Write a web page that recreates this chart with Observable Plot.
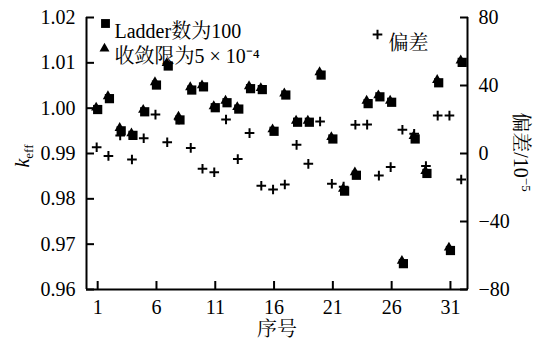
<!DOCTYPE html>
<html><head><meta charset="utf-8">
<script src="https://cdn.jsdelivr.net/npm/d3@7"></script>
<script src="https://cdn.jsdelivr.net/npm/@observablehq/plot@0.6"></script>
<style>body{margin:0;background:#fff} svg{display:block}</style>
</head><body><div id="chart"></div>
<script>
// ---- data ----
const index = [1,2,3,4,5,6,7,8,9,10,11,12,13,14,15,16,17,18,19,20,21,22,23,24,25,26,27,28,29,30,31,32];
const ladder = [0.9997,1.0021,0.9950,0.9940,0.9992,1.0051,1.0093,0.9974,1.0040,1.0047,1.0001,1.0012,0.9998,1.0043,1.0041,0.9949,1.0029,0.9969,0.9969,1.0073,0.9932,0.9817,0.9852,1.0010,1.0025,1.0013,0.9657,0.9932,0.9856,1.0056,0.9686,1.0101];
const conv = [0.9998,1.0023,0.9953,0.9941,0.9993,1.0054,1.0096,0.9978,1.0043,1.0047,1.0001,1.0013,0.9999,1.0045,1.0041,0.9950,1.0029,0.9969,0.9969,1.0076,0.9933,0.9819,0.9855,1.0013,1.0025,1.0013,0.9660,0.9935,0.9858,1.0059,0.9689,1.0102];
const deviation = [3.7,-1.4,10.6,-3.5,9.0,22.9,6.6,20.0,3.3,-9.0,-11.0,20.0,-3.3,12.0,-19.0,-21.2,-18.2,5.1,-6.1,18.8,-17.8,-19.5,16.9,17.0,-13.0,-8.0,14.0,11.6,-7.4,22.3,22.3,-15.3];
const xTicks = [1,6,11,16,21,26,31];
const kTicks = [0.96,0.97,0.98,0.99,1.00,1.01,1.02];
const devTicks = [-80,-40,0,40,80];
const legendLabels = ["Ladder数为100","收敛限为5 × 10⁻⁴","偏差"];
const xTitle = "序号";

// map deviation (10^-5) onto the left k_eff scale: -80..80 -> 0.96..1.02
const devToK = d => 0.99 + d * 0.03 / 80;
const kToDev = k => Math.round((k - 0.99) * 80 / 0.03);
const minus = v => v < 0 ? "\u2212" + Math.abs(v) : String(v);

const xDom = [0.05, 32.45], yDom = [0.96, 1.02];
const latin = "Liberation Serif";
const cjk = "Noto Serif CJK SC";

const chart = Plot.plot({
  width: 552, height: 343,
  marginLeft: 86, marginRight: 85, marginTop: 17, marginBottom: 54,
  style: {fontSize: "20px"},
  x: {domain: xDom, axis: null},
  y: {domain: yDom, axis: null},
  marks: [
    Plot.ruleX([xDom[0], xDom[1]], {stroke: "#000", strokeWidth: 2}),
    Plot.ruleY([yDom[0]], {stroke: "#000", strokeWidth: 2}),
    Plot.axisX({ticks: xTicks, tickSize: -8, tickPadding: 18, strokeWidth: 2, tickFormat: d => String(d), label: null}),
    Plot.axisY({anchor: "left", ticks: kTicks, tickSize: -8, tickPadding: 19, strokeWidth: 2, tickFormat: d => d.toFixed(2), label: null}),
    Plot.axisY({anchor: "right", ticks: devTicks.map(devToK), tickSize: -8, tickPadding: 19, strokeWidth: 2, tickFormat: d => minus(kToDev(d)), label: null}),
    Plot.dot(index, {x: index, y: conv, symbol: "triangle", r: 3.8, fill: "#000", dx: -1.5, dy: -1.5}),
    Plot.dot(index, {x: index, y: ladder, symbol: "square", r: 5.2, fill: "#000"}),
    Plot.dot(index, {x: index, y: deviation.map(devToK), symbol: "plus", r: 3.2, stroke: "#000", strokeWidth: 2, dx: -1}),
    // legend
    Plot.dot([legendLabels[0]], {frameAnchor: "top-left", dx: 19, dy: 6, symbol: "square", r: 5, fill: "#000"}),
    Plot.text([legendLabels[0]], {frameAnchor: "top-left", dx: 28, dy: 6, textAnchor: "start", fontSize: 20}),
    Plot.dot([legendLabels[1]], {frameAnchor: "top-left", dx: 18, dy: 31, symbol: "triangle", r: 3.7, fill: "#000"}),
    Plot.text([legendLabels[1]], {frameAnchor: "top-left", dx: 28, dy: 31, textAnchor: "start", fontSize: 20}),
    Plot.dot([legendLabels[2]], {frameAnchor: "top-left", dx: 291, dy: 17, symbol: "plus", r: 3.2, stroke: "#000", strokeWidth: 2}),
    Plot.text([legendLabels[2]], {frameAnchor: "top-left", dx: 302, dy: 18, textAnchor: "start", fontSize: 20}),
    // x title
    Plot.text([xTitle], {frameAnchor: "bottom", dy: 46, fontSize: 20})
  ]
});
document.getElementById("chart").appendChild(chart);

const svg = d3.select(chart);
// axis titles with sub/superscripts
const lt = svg.append("text")
  .attr("transform", "translate(29,156) rotate(-90)")
  .attr("text-anchor", "middle").attr("font-size", 20);
lt.append("tspan").attr("font-style", "italic").text("k");
lt.append("tspan").attr("font-size", 13).attr("dy", 4).text("eff");

const rt = svg.append("text")
  .attr("transform", "translate(514,152) rotate(90)")
  .attr("text-anchor", "middle").attr("font-size", 20);
rt.append("tspan").text("偏差/10");
rt.append("tspan").attr("font-size", 13).attr("dy", -8).text("\u22125");

// fonts: Latin in Liberation Serif, Chinese in Noto Serif CJK SC
const texts = chart.querySelectorAll("text");
texts.forEach(t => t.style.setProperty("font-family", latin, "important"));
const han = /[\u3400-\u9fff]/;
const svgNS = "http://www.w3.org/2000/svg";
texts.forEach(t => {
  const spans = t.querySelectorAll("tspan");
  const targets = spans.length ? Array.from(spans) : [t];
  targets.forEach(n => {
    const s = n.textContent;
    if (!han.test(s)) return;
    const parts = s.match(/[\u3400-\u9fff]+|[^\u3400-\u9fff]+/g);
    n.textContent = "";
    parts.forEach(p => {
      const sp = document.createElementNS(svgNS, "tspan");
      sp.textContent = p;
      if (han.test(p)) sp.style.setProperty("font-family", cjk, "important");
      n.appendChild(sp);
    });
  });
});
</script>
</body></html>
